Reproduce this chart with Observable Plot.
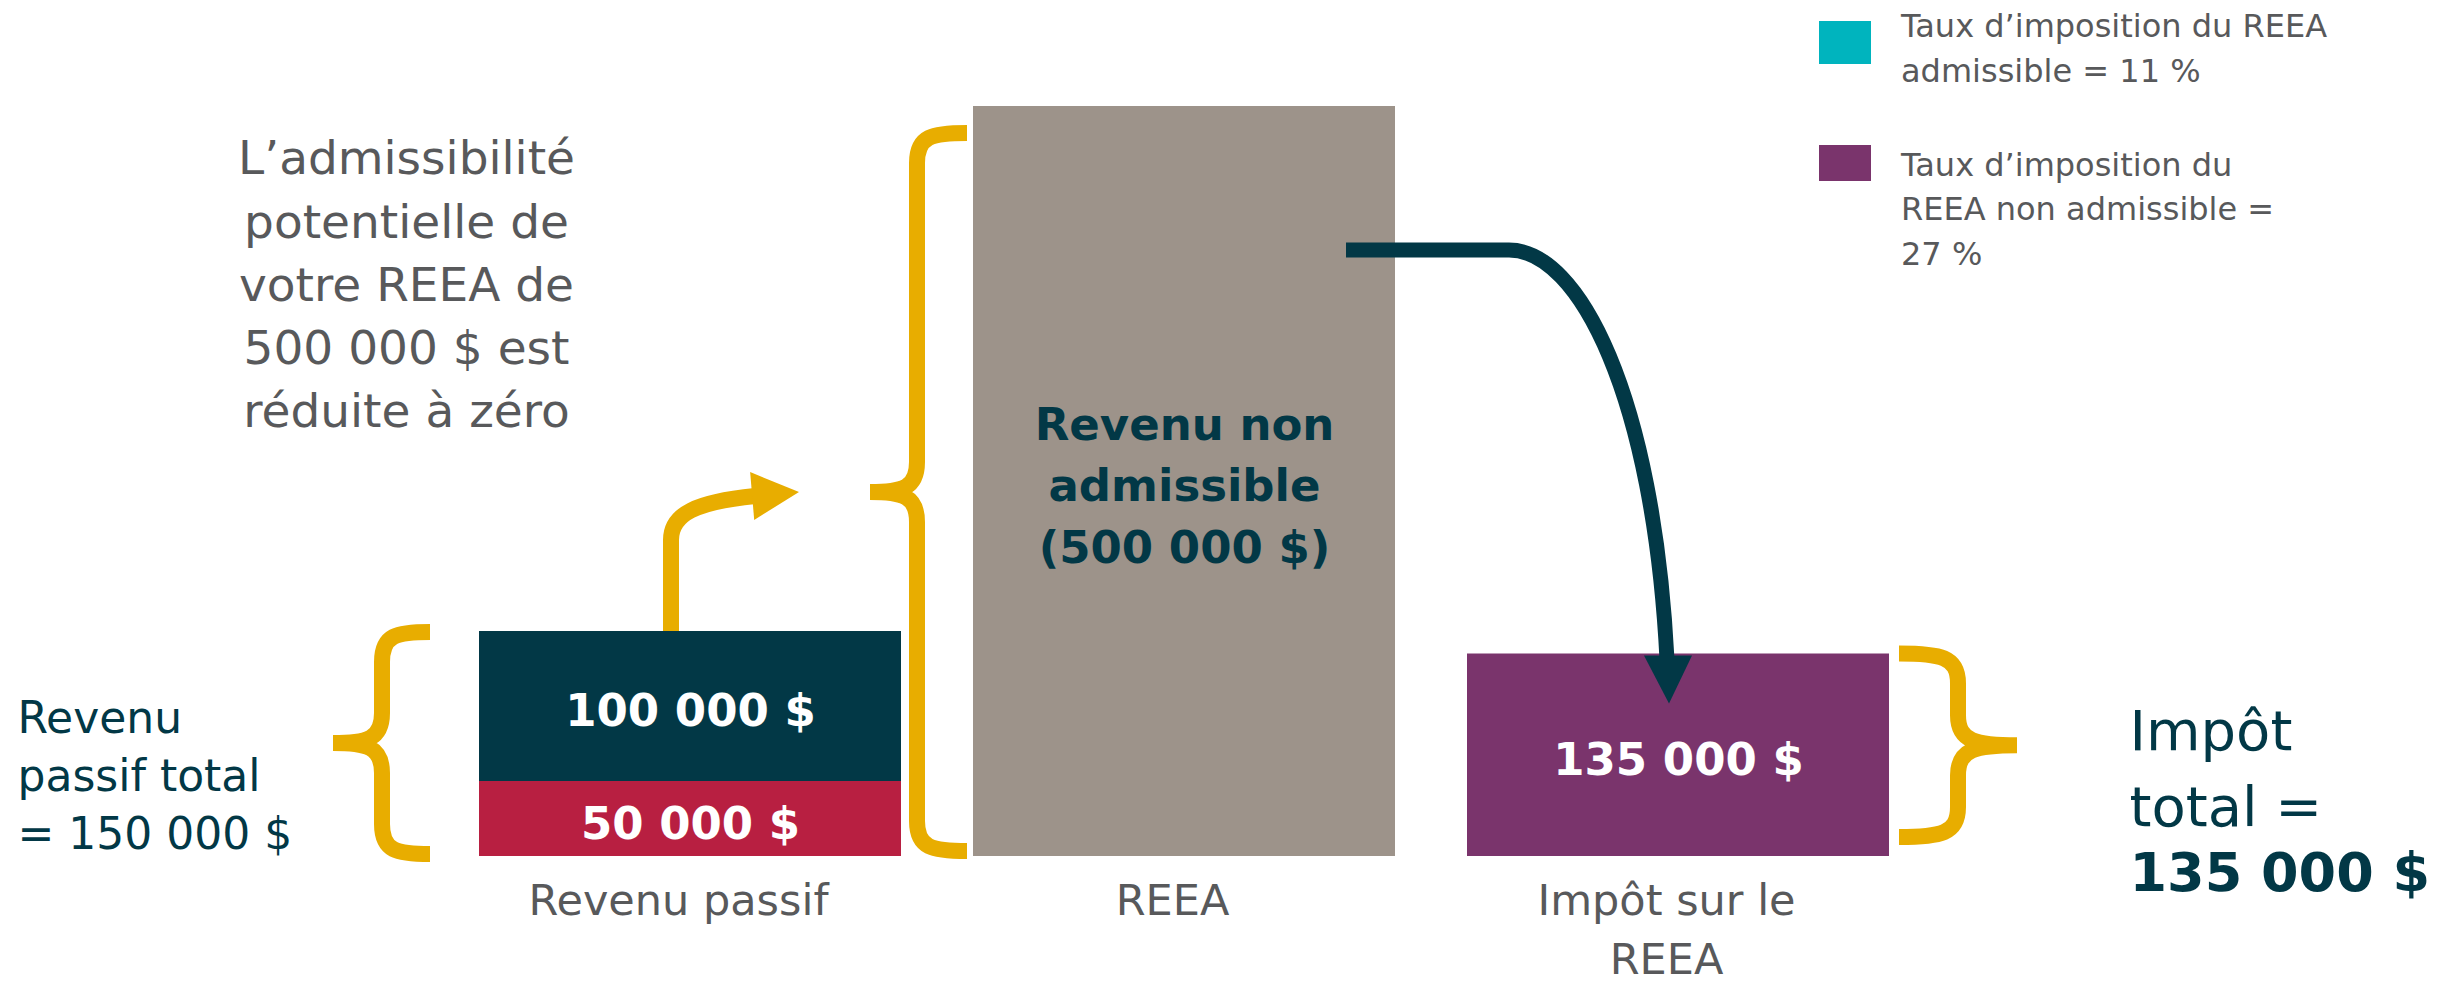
<!DOCTYPE html>
<html>
<head>
<meta charset="utf-8">
<script src="https://cdn.jsdelivr.net/npm/d3@7"></script>
<script src="https://cdn.jsdelivr.net/npm/@observablehq/plot@0.6"></script>
<style>
  html, body { margin: 0; padding: 0; background: #ffffff; }
  #chart { position: relative; width: 2450px; height: 986px; }
</style>
</head>
<body>
<div id="chart"></div>
<script>
// ---------- data ----------
const categories = ["Revenu passif", "REEA", "Impôt sur le REEA"];
const categoryLabels = ["Revenu passif", "REEA", "Impôt sur le\nREEA"];

const segmentCategory = ["Revenu passif", "Revenu passif", "REEA", "Impôt sur le REEA"];
const segmentValue = [50000, 100000, 500000, 135000];
const segmentLabel = ["50 000 $", "100 000 $", "Revenu non\nadmissible\n(500 000 $)", "135 000 $"];
const segmentColor = ["#B81F41", "#023846", "#9D938A", "#7A346C"];
const segmentLabelColor = ["#FFFFFF", "#FFFFFF", "#023846", "#FFFFFF"];

const legendLabels = ["Taux d’imposition du REEA\nadmissible = 11 %", "Taux d’imposition du\nREEA non admissible =\n27 %"];
const legendColors = ["#00B4BE", "#7A346C"];

const noteEligibility = "L’admissibilité\npotentielle de\nvotre REEA de\n500 000 $ est\nréduite à zéro";
const notePassiveTotal = "Revenu\npassif total\n= 150 000 $";
const noteTaxTotal = "Impôt\ntotal =";
const noteTaxTotalValue = "135 000 $";

// ---------- styles ----------
const FONT = '"DejaVu Sans", sans-serif';
const GREY_TEXT = "#58595B";
const DARK = "#023846";
const YELLOW = "#E8AD00";

const segments = segmentValue.map((v, i) => ({
  cat: segmentCategory[i], value: v, label: segmentLabel[i],
  fill: segmentColor[i], labelFill: segmentLabelColor[i]
}));

const plot = Plot.plot({
  width: 2450, height: 986,
  marginTop: 106, marginBottom: 130, marginLeft: 406, marginRight: 487,
  style: {fontFamily: FONT, background: "transparent", overflow: "visible"},
  x: {domain: categories, padding: 0.1455, label: null},
  y: {domain: [0, 500000], axis: null, label: null},
  color: {type: "identity"},
  marks: [
    Plot.barY(segments, {x: "cat", y: "value", fill: "fill"}),
    Plot.text(segments, Plot.stackY({
      x: "cat", y: "value", text: "label", fill: "labelFill",
      fontSize: 45, fontWeight: "bold", lineHeight: 1.37
    })),
    Plot.axisX({
      tickSize: 0, tickPadding: 16, fontSize: 43, lineHeight: 1.38,
      color: GREY_TEXT, label: null, dx: -12,
      tickFormat: d => categoryLabels[categories.indexOf(d)]
    }),
    Plot.text([noteEligibility], {
      text: d => d, frameAnchor: "top-left", dx: 0, dy: 23,
      textAnchor: "middle", lineAnchor: "top", fontSize: 47, lineHeight: 1.346, fill: GREY_TEXT
    }),
    Plot.text([notePassiveTotal], {
      text: d => d, frameAnchor: "top-left", dx: -389, dy: 585,
      textAnchor: "start", lineAnchor: "top", fontSize: 44, lineHeight: 1.318, fill: DARK
    }),
    Plot.text([noteTaxTotal], {
      text: d => d, frameAnchor: "top-left", dx: 1723, dy: 590,
      textAnchor: "start", lineAnchor: "top", fontSize: 56, lineHeight: 1.357, fill: DARK
    }),
    Plot.text([noteTaxTotalValue], {
      text: d => d, frameAnchor: "top-left", dx: 1723, dy: 746,
      textAnchor: "start", lineAnchor: "top", fontSize: 54, fontWeight: "bold", fill: DARK
    })
  ]
});

document.getElementById("chart").appendChild(plot);

// ---------- annotations (braces, arrows, legend) through the plot's scales ----------
const svg = d3.select(plot);
const sx = plot.scale("x"), sy = plot.scale("y");
const bw = sx.bandwidth;
const X = sx.apply ? (v => sx.apply(v))
  : d3.scaleBand(sx.domain, sx.range).paddingInner(sx.paddingInner).paddingOuter(sx.paddingOuter).align(sx.align ?? 0.5);
const Y = sy.apply ? (v => sy.apply(v)) : d3.scaleLinear(sy.domain, sy.range);

const totals = d3.rollup(segments, v => d3.sum(v, d => d.value), d => d.cat);
const [passCat, reeaCat, taxCat] = categories;
const yBase = Y(0);
const passTop = Y(totals.get(passCat));
const reeaTop = Y(totals.get(reeaCat));
const taxTop = Y(totals.get(taxCat));
const passLeft = X(passCat), reeaLeft = X(reeaCat), taxLeft = X(taxCat);

function braceD(x, yTop, yBot, dir, hook, tip) {
  const ym = (yTop + yBot) / 2, r = 30;
  const hx = x - dir * hook, tx = x + dir * tip;
  return `M${hx},${yTop}C${x - dir * hook * 0.3},${yTop} ${x},${yTop + 3} ${x},${yTop + r}`
    + `L${x},${ym - r}C${x},${ym - 4} ${x + dir * tip * 0.3},${ym} ${tx},${ym}`
    + `M${tx},${ym}C${x + dir * tip * 0.3},${ym} ${x},${ym + 4} ${x},${ym + r}`
    + `L${x},${yBot - r}C${x},${yBot - 3} ${x - dir * hook * 0.3},${yBot} ${hx},${yBot}`;
}

const ann = svg.append("g");

// braces
const passBraceX = passLeft - 97;
const reeaBraceX = reeaLeft - 56, reeaBraceTop = reeaTop + 27, reeaBraceBot = yBase - 5;
const taxBraceX = taxLeft + bw + 69;
[
  braceD(passBraceX, passTop + 1, yBase - 2, -1, 48, 49),
  braceD(reeaBraceX, reeaBraceTop, reeaBraceBot, -1, 50, 47),
  braceD(taxBraceX, taxTop, yBase - 19, 1, 59, 59)
].forEach(d => ann.append("path").attr("d", d)
  .attr("fill", "none").attr("stroke", YELLOW).attr("stroke-width", 16)
  .attr("stroke-linecap", "butt").attr("stroke-linejoin", "round"));

// yellow arrow: from the passive income bar towards the REEA brace
const reeaMid = (reeaBraceTop + reeaBraceBot) / 2;
const T = [reeaBraceX - 47 - 71, reeaMid];
const ang = Math.atan2(-4, 47), ux = Math.cos(ang), uy = Math.sin(ang);
const headLen = 47, headHalf = 24;
const B = [T[0] - headLen * ux, T[1] - headLen * uy];
const ax = passLeft + 192;
ann.append("path")
  .attr("d", `M${ax},${passTop}L${ax},${T[1] + 48}C${ax},${T[1] + 22} ${ax + 25},${T[1] + 10} ${B[0] + 3},${B[1]}`)
  .attr("fill", "none").attr("stroke", YELLOW).attr("stroke-width", 16);
ann.append("path")
  .attr("d", `M${T[0]},${T[1]}L${B[0] - headHalf * uy},${B[1] + headHalf * ux}L${B[0] + headHalf * uy},${B[1] - headHalf * ux}Z`)
  .attr("fill", YELLOW);

// dark arrow: from the REEA bar to the tax bar
const hx0 = reeaLeft + bw - 49, hy = reeaTop + 144, hx1 = taxLeft + 42;
const ex = taxLeft + bw / 2 - 10, ey = taxTop + 2;
const ddx = ex - hx1, ddy = ey - hy;
ann.append("path")
  .attr("d", `M${hx0},${hy}L${hx1},${hy}C${hx1 + 0.44 * ddx},${hy} ${ex - 0.09 * ddx},${hy + 0.36 * ddy} ${ex - 1},${ey + 4}`)
  .attr("fill", "none").attr("stroke", DARK).attr("stroke-width", 15);
ann.append("path")
  .attr("d", `M${ex - 24},${ey}L${ex + 24},${ey}L${ex + 1},${ey + 48}Z`)
  .attr("fill", DARK);

// legend
const legend = svg.append("g").attr("font-family", FONT).attr("font-size", 32)
  .attr("fill", GREY_TEXT).attr("text-anchor", "start");
const legendSwatch = [{y: 21, h: 43}, {y: 145, h: 36}];
const legendBaselines = [[37, 82], [176, 220, 265]];
legendLabels.forEach((lab, i) => {
  legend.append("rect").attr("x", 1819).attr("y", legendSwatch[i].y)
    .attr("width", 52).attr("height", legendSwatch[i].h).attr("fill", legendColors[i]);
  lab.split("\n").forEach((line, j) => {
    legend.append("text").attr("x", 1901).attr("y", legendBaselines[i][j])
      .attr("text-anchor", "start").text(line);
  });
});
</script>
</body>
</html>
